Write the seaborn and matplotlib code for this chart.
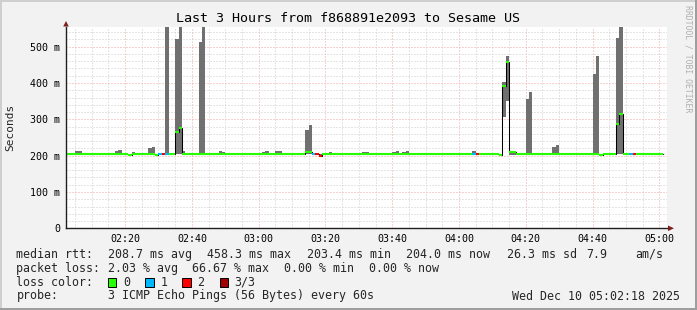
import numpy as np
import pandas as pd
import matplotlib
matplotlib.use("Agg")
import matplotlib.pyplot as plt
from matplotlib.patches import Rectangle, Polygon
import seaborn as sns

# ---------------- data (minute stamps = minutes after midnight, step end) ----------------
minutes = list(range(123, 302))  # 02:03 .. 05:01, one value per 60 s step

median_ms = [
    204, 204, 204, 204, 204, 204, 204, 204, 204, 204,   # 123-132
    204, 204, 204, 204, 204, 204, 204, 204, 204, 201,   # 133-142
    204, 204, 204, 204, 204, 204, 204, 201, 204, 204,   # 143-152
    204, 204, 204, 264, 276, 204, 204, 204, 204, 204,   # 153-162
    204, 204, 204, 204, 204, 204, 204, 204, 204, 204,   # 163-172
    204, 204, 204, 204, 204, 204, 204, 204, 204, 204,   # 173-182
    204, 204, 204, 204, 204, 204, 204, 204, 204, 204,   # 183-192
    204, 204, 210, 210, 204, 204, 199, 204, 204, 204,   # 193-202
    204, 204, 204, 204, 204, 204, 204, 204, 204, 204,   # 203-212
    204, 204, 204, 204, 204, 204, 204, 204, 204, 204,   # 213-222
    204, 204, 204, 204, 204, 204, 204, 204, 204, 204,   # 223-232
    204, 204, 204, 204, 204, 204, 204, 204, 204, 204,   # 233-242
    204, 204, 204, 204, 204, 204, 204, 204, 204, 204,   # 243-252
    201, 393, 458, 211, 209, 204, 204, 204, 204, 204,   # 253-262
    204, 204, 204, 204, 204, 204, 204, 204, 204, 204,   # 263-272
    204, 204, 204, 204, 204, 204, 204, 204, 204, 204,   # 273-282
    201, 204, 204, 204, 204, 286, 315, 204, 204, 204,   # 283-292
    204, 204, 204, 204, 204, 204, 204, 204, 204,        # 293-301
]

smoke_lo_ms = [
    203, 203, 203, 203, 203, 203, 203, 203, 203, 203,
    203, 203, 203, 203, 203, 203, 203, 203, 203, 200,
    203, 203, 203, 203, 203, 203, 203, 200, 203, 203,
    203, 203, 203, 204, 205, 203, 203, 203, 203, 203,
    203, 203, 203, 203, 203, 203, 203, 203, 203, 203,
    203, 203, 203, 203, 203, 203, 203, 203, 203, 203,
    203, 203, 203, 203, 203, 203, 203, 203, 203, 203,
    203, 203, 204, 204, 203, 203, 197, 203, 203, 203,
    203, 203, 203, 203, 203, 203, 203, 203, 203, 203,
    203, 203, 203, 203, 203, 203, 203, 203, 203, 203,
    203, 203, 203, 203, 203, 203, 203, 203, 203, 203,
    203, 203, 203, 203, 203, 203, 203, 203, 203, 203,
    203, 203, 203, 203, 203, 203, 203, 203, 203, 203,
    200, 307, 350, 203, 203, 203, 203, 203, 203, 203,
    203, 203, 203, 203, 203, 203, 203, 203, 203, 203,
    203, 203, 203, 203, 203, 203, 203, 203, 203, 203,
    200, 203, 203, 203, 203, 204, 205, 203, 203, 203,
    203, 203, 203, 203, 203, 203, 203, 203, 203,
]

smoke_hi_ms = [
    205, 205, 205, 213, 213, 205, 205, 205, 205, 205,
    205, 205, 205, 205, 205, 213, 215, 205, 205, 205,
    209, 205, 205, 205, 205, 220, 224, 205, 205, 205,
    560, 205, 205, 521, 560, 213, 205, 205, 205, 205,
    513, 560, 205, 205, 205, 205, 213, 211, 205, 205,
    205, 205, 205, 205, 205, 205, 205, 205, 205, 209,
    212, 205, 205, 212, 212, 205, 205, 205, 205, 205,
    205, 205, 271, 285, 205, 205, 205, 205, 205, 209,
    205, 205, 205, 205, 205, 205, 205, 205, 205, 209,
    211, 205, 205, 205, 205, 205, 205, 205, 210, 212,
    205, 210, 212, 205, 205, 205, 205, 205, 205, 205,
    205, 205, 205, 205, 205, 205, 205, 205, 205, 205,
    205, 205, 212, 205, 205, 205, 205, 205, 205, 205,
    205, 402, 473, 212, 212, 205, 205, 205, 356, 375,
    205, 205, 205, 205, 205, 205, 224, 229, 205, 205,
    205, 205, 205, 205, 205, 205, 205, 205, 425, 475,
    205, 205, 207, 207, 205, 525, 560, 205, 205, 205,
    205, 205, 205, 205, 205, 205, 205, 205, 205,
]

lost_pings = [
    0, 0, 0, 0, 0, 0, 0, 0, 0, 0,
    0, 0, 0, 0, 0, 0, 0, 0, 0, 0,
    0, 0, 0, 0, 0, 0, 0, 0, 1, 2,
    1, 0, 0, 0, 0, 0, 0, 0, 0, 0,
    0, 0, 0, 0, 0, 0, 0, 0, 0, 0,
    0, 0, 0, 0, 0, 0, 0, 0, 0, 0,
    0, 0, 0, 0, 0, 0, 0, 0, 0, 0,
    0, 0, 0, 0, 1, 2, 2, 0, 0, 0,
    0, 0, 0, 0, 0, 0, 0, 0, 0, 0,
    0, 0, 0, 0, 0, 0, 0, 0, 0, 0,
    0, 0, 0, 0, 0, 0, 0, 0, 0, 0,
    0, 0, 0, 0, 0, 0, 0, 0, 0, 0,
    0, 0, 1, 2, 0, 0, 0, 0, 0, 0,
    0, 0, 0, 0, 0, 0, 0, 0, 0, 0,
    0, 0, 0, 0, 0, 0, 0, 0, 0, 0,
    0, 0, 0, 0, 0, 0, 0, 0, 0, 0,
    0, 0, 0, 0, 0, 0, 0, 0, 0, 1,
    2, 0, 0, 0, 0, 0, 0, 0, 0,
]

loss_labels = ["0", "1", "2", "3/3"]
loss_colors = ["#26ff00", "#00b8ff", "#ff0000", "#a00000"]

x_tick_minutes = [140, 160, 180, 200, 220, 240, 260, 280, 300]
x_tick_labels = ["02:20", "02:40", "03:00", "03:20", "03:40", "04:00", "04:20", "04:40", "05:00"]
y_tick_values = [0, 100, 200, 300, 400, 500]
y_tick_labels = ["0", "100 m", "200 m", "300 m", "400 m", "500 m"]

title = "Last 3 Hours from f868891e2093 to Sesame US"
stats_rtt = [("median rtt:", 16.4), ("208.7 ms avg", 107.6), ("458.3 ms max", 206.7),
             ("203.4 ms min", 306.7), ("204.0 ms now", 405.8), ("26.3 ms sd", 506.7),
             ("7.9", 585.8), ("am/s", 635.6)]
stats_loss = [("packet loss:", 16.4), ("2.03 % avg", 107.6), ("66.67 % max", 192.0),
              ("0.00 % min", 284.0), ("0.00 % now", 369.0)]
probe_text = "3 ICMP Echo Pings (56 Bytes) every 60s"
stamp_text = "Wed Dec 10 05:02:18 2025"

# ---------------- style ----------------
sns.set_style("white")
plt.rcParams['font.family'] = ['DejaVu Sans Mono', 'DejaVu Sans']

W, H = 697, 310
fig = plt.figure(figsize=(W / 100, H / 100), dpi=100, facecolor='#f2f2f2')


def fx(px):
    return px / W


def fy(py):
    return 1 - py / H


# 3D frame
fig.patches.append(Rectangle((0, fy(2)), 1, 2 / H, transform=fig.transFigure, color='#cfcfcf', lw=0))
fig.patches.append(Rectangle((0, 0), 2 / W, 1, transform=fig.transFigure, color='#cfcfcf', lw=0))
fig.patches.append(Rectangle((0, 0), 1, 2 / H, transform=fig.transFigure, color='#9e9e9e', lw=0))
fig.patches.append(Rectangle((1 - 2 / W, 0), 2 / W, 1, transform=fig.transFigure, color='#9e9e9e', lw=0))

ax_left, ax_right, ax_top, ax_bottom = 66, 667, 26.7, 228.3
ax = fig.add_axes([fx(ax_left), fy(ax_bottom), (ax_right - ax_left) / W, (ax_bottom - ax_top) / H])
ax.set_facecolor('white')
ax.set_axisbelow(True)

m = np.array(minutes, dtype=float)
med = np.array(median_ms, dtype=float)
lo = np.array(smoke_lo_ms, dtype=float)
hi = np.array(smoke_hi_ms, dtype=float)

# smoke
ax.bar(m - 1, hi - lo, bottom=lo, width=1.0, align='edge', color='#707070',
       linewidth=0, antialiased=False, zorder=2)

# black median step line
step_df = pd.DataFrame({"t": np.append(m - 1, m[-1]), "median": np.append(med, med[-1])})
sns.lineplot(data=step_df, x="t", y="median", drawstyle="steps-post", color="black",
             linewidth=0.75, estimator=None, ax=ax, zorder=3)

# loss-coloured median segments
ax.hlines(med, m - 1, m, colors=[loss_colors[k] for k in lost_pings], linewidth=1.5, zorder=4)

ax.set_xlim(122.3, 302.3)
ax.set_ylim(0, 555)
ax.set_xticks(x_tick_minutes)
ax.set_xticklabels(x_tick_labels)
ax.set_xticks(np.arange(125, 302, 5), minor=True)
ax.set_yticks(y_tick_values)
ax.set_yticklabels(y_tick_labels)
ax.set_yticks(np.arange(20, 555, 20), minor=True)

ax.grid(which='minor', color='#cdcdcd', linewidth=0.72, linestyle=(0, (1, 2)))
ax.grid(which='major', color='#f0a3a3', linewidth=0.72, linestyle=(0, (1, 2)))
ax.tick_params(axis='both', which='both', length=0, labelsize=7.2, colors='black')
ax.tick_params(axis='x', pad=4.0)
ax.tick_params(axis='y', pad=4.3)
ax.set_xlabel("")
ax.set_ylabel("")
for s in ['top', 'right']:
    ax.spines[s].set_visible(False)
for s in ['left', 'bottom']:
    ax.spines[s].set_color('#1f1f1f')
    ax.spines[s].set_linewidth(1.0)
    ax.spines[s].set_zorder(5)

# arrows
arrow_col = (0.5, 0.12, 0.12)
pts_top = [(fx(63.2), fy(26.5)), (fx(68.8), fy(26.5)), (fx(66), fy(21.0))]
pts_right = [(fx(668), fy(225.5)), (fx(668), fy(231.1)), (fx(674), fy(228.3))]
fig.patches.append(Polygon(pts_top, closed=True, transform=fig.transFigure, color=arrow_col, lw=0))
fig.patches.append(Polygon(pts_right, closed=True, transform=fig.transFigure, color=arrow_col, lw=0))

# texts
fig.text(0.5, fy(19), title, ha='center', va='center', fontsize=9.6, color='black')
fig.text(fx(10), fy(127.5), "Seconds", rotation=90, ha='center', va='center', fontsize=8.0)
fig.text(fx(688), fy(59), "RRDTOOL / TOBI OETIKER", rotation=270, ha='center', va='center',
         fontsize=5.9, color='#b0b0b0')

LS = 8.4
for s, x in stats_rtt:
    fig.text(fx(x), fy(254.3), s, ha='left', va='center', fontsize=LS)
for s, x in stats_loss:
    fig.text(fx(x), fy(268.3), s, ha='left', va='center', fontsize=LS)

fig.text(fx(16.4), fy(282.3), "loss color:", ha='left', va='center', fontsize=LS)
box_x = [108, 145.3, 182.2, 219.6]
for lbl, col, bx in zip(loss_labels, loss_colors, box_x):
    fig.patches.append(Rectangle((fx(bx), fy(286.5)), 8.4 / W, 8.4 / H, transform=fig.transFigure,
                                 facecolor=col, edgecolor='black', lw=0.7))
    fig.text(fx(bx + 15.1), fy(282.3), lbl, ha='left', va='center', fontsize=LS)

fig.text(fx(16.4), fy(296), "probe:", ha='left', va='center', fontsize=LS)
fig.text(fx(107.6), fy(296), probe_text, ha='left', va='center', fontsize=LS)
fig.text(fx(680), fy(296), stamp_text, ha='right', va='center', fontsize=LS)

fig.savefig("out.png", dpi=100, facecolor=fig.get_facecolor())
